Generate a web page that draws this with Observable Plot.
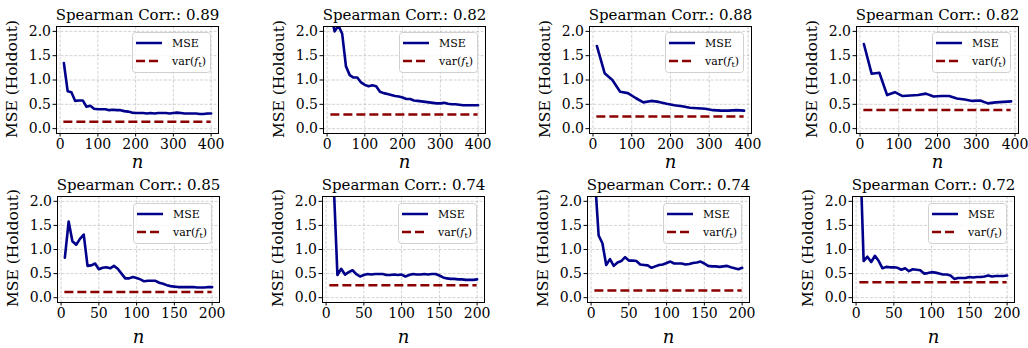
<!DOCTYPE html>
<html><head><meta charset="utf-8">
<script src="https://cdn.jsdelivr.net/npm/d3@7"></script>
<script src="https://cdn.jsdelivr.net/npm/@observablehq/plot@0.6"></script>
<style>
body{margin:0;background:#fff;}
#fig{position:relative;width:1028px;height:348px;overflow:hidden;font-family:"DejaVu Serif",serif;background:#fff;}
#fig svg.pl{position:absolute;}
.overlay{position:absolute;overflow:visible;}
</style></head><body><div id="fig"></div>
<script>
// ---- data ----
const nStep10 = [10,20,30,40,50,60,70,80,90,100,110,120,130,140,150,160,170,180,190,200,210,220,230,240,250,260,270,280,290,300,310,320,330,340,350,360,370,380,390,400];
const nStep20 = [10,30,50,70,90,110,130,150,170,190,210,230,250,270,290,310,330,350,370,390];
const nStep5 = [5,10,15,20,25,30,35,40,45,50,55,60,65,70,75,80,85,90,95,100,105,110,115,120,125,130,135,140,145,150,155,160,165,170,175,180,185,190,195,200];

const mse1 = [1.35,0.77,0.75,0.57,0.58,0.58,0.45,0.47,0.41,0.40,0.40,0.40,0.38,0.39,0.38,0.38,0.36,0.35,0.33,0.32,0.32,0.32,0.31,0.32,0.31,0.32,0.32,0.32,0.31,0.32,0.33,0.32,0.31,0.31,0.31,0.31,0.30,0.30,0.31,0.31];
const mse2 = [2.35,2.0,2.12,1.95,1.28,1.1,1.05,1.05,0.95,0.9,0.87,0.89,0.87,0.76,0.73,0.71,0.69,0.67,0.66,0.64,0.61,0.61,0.58,0.57,0.56,0.55,0.54,0.53,0.52,0.52,0.53,0.51,0.50,0.50,0.49,0.48,0.48,0.48,0.48,0.48];
const mse3 = [1.70,1.14,1.0,0.76,0.73,0.63,0.54,0.57,0.55,0.51,0.48,0.46,0.43,0.42,0.41,0.38,0.37,0.37,0.38,0.37];
const mse4 = [1.74,1.13,1.15,0.69,0.75,0.67,0.68,0.69,0.72,0.66,0.67,0.67,0.62,0.60,0.57,0.58,0.52,0.54,0.55,0.56];
const mse5 = [0.83,1.58,1.17,1.10,1.22,1.31,0.66,0.67,0.71,0.59,0.62,0.63,0.61,0.66,0.60,0.50,0.40,0.40,0.43,0.41,0.38,0.34,0.35,0.35,0.35,0.31,0.29,0.26,0.24,0.23,0.22,0.22,0.22,0.22,0.22,0.21,0.21,0.21,0.22,0.22];
const mse6 = [3.5,2.4,0.47,0.60,0.48,0.53,0.57,0.49,0.44,0.47,0.49,0.48,0.49,0.49,0.49,0.47,0.47,0.48,0.47,0.48,0.44,0.47,0.49,0.48,0.48,0.49,0.48,0.49,0.49,0.46,0.42,0.40,0.39,0.39,0.38,0.38,0.37,0.37,0.37,0.38];
const mse7 = [2.5,1.29,1.13,0.68,0.80,0.66,0.73,0.76,0.84,0.77,0.77,0.76,0.69,0.68,0.67,0.62,0.65,0.68,0.69,0.72,0.75,0.71,0.71,0.71,0.69,0.70,0.72,0.73,0.75,0.71,0.66,0.65,0.65,0.64,0.65,0.66,0.63,0.61,0.59,0.62];
const mse8 = [3.2,0.76,0.85,0.74,0.87,0.76,0.61,0.64,0.63,0.63,0.62,0.58,0.61,0.55,0.59,0.58,0.57,0.50,0.51,0.53,0.52,0.50,0.48,0.48,0.46,0.39,0.41,0.41,0.41,0.43,0.42,0.43,0.43,0.44,0.46,0.44,0.45,0.45,0.45,0.46];

const varFt = [0.14,0.29,0.25,0.385,0.12,0.26,0.15,0.32];
const spearman = ["0.89","0.82","0.88","0.82","0.85","0.74","0.74","0.72"];

const xTicksTop = [0,100,200,300,400];
const xTicksBottom = [0,50,100,150,200];
const yTicks = [0.0,0.5,1.0,1.5,2.0];
const yLabel = "MSE (Holdout)";

const panelN = [nStep10,nStep10,nStep20,nStep20,nStep5,nStep5,nStep5,nStep5];
const panelMse = [mse1,mse2,mse3,mse4,mse5,mse6,mse7,mse8];

// ---- layout ----
const frameLeft = [56,323,589,856,57,322,587,852];
const frameTop = [26,26,26,26,196,196,196,196];
const FW = 162;
const frameH = [107,107,107,107,106,106,106,106];
const ML = 56, MT = 26, MR = 12, MB = 48;

const fig = document.getElementById("fig");
const FONT = "DejaVu Serif";
const BLUE = "#00008b", RED = "#8b0000";
const SVGNS = "http://www.w3.org/2000/svg";

for (let i = 0; i < 8; i++) {
  const ns = panelN[i];
  const data = ns.map((n, j) => ({n, mse: panelMse[i][j]}));
  const lo = d3.min(ns), hi = d3.max(ns), pad = (hi - lo) * 0.05;
  const xt = i < 4 ? xTicksTop : xTicksBottom;
  const gridStyle = {stroke: "#b0b0b0", strokeOpacity: 0.7, strokeWidth: 0.8, strokeDasharray: "3,1.5"};
  const svg = Plot.plot({
    width: ML + FW + MR,
    height: MT + frameH[i] + MB,
    marginLeft: ML, marginTop: MT, marginRight: MR, marginBottom: MB,
    x: {domain: [lo - pad, hi + pad]},
    y: {domain: [-0.1, 2.1]},
    style: {fontFamily: FONT, background: "transparent", overflow: "visible", color: "#000"},
    marks: [
      Plot.gridX(xt, gridStyle),
      Plot.gridY(yTicks, gridStyle),
      Plot.ruleY([varFt[i]], {x1: lo, x2: hi, stroke: RED, strokeWidth: 2.5, strokeDasharray: "9,4"}),
      Plot.line(data, {x: "n", y: "mse", stroke: BLUE, strokeWidth: 2.6, clip: true, strokeLinejoin: "round"}),
      Plot.frame({stroke: "#000", strokeWidth: 1}),
      Plot.axisX(xt, {tickSize: 3.5, tickPadding: 2, fontSize: 14, label: null, tickFormat: d3.format("d")}),
      Plot.axisY(yTicks, {tickSize: 3.5, tickPadding: 2, fontSize: 14, label: null, tickFormat: d3.format(".1f")}),
      Plot.text(["Spearman Corr.: " + spearman[i]], {frameAnchor: "top", dy: -11, fontSize: 15, lineAnchor: "middle"}),
      Plot.text(["n"], {frameAnchor: "bottom", dy: i < 4 ? 29 : 35, fontSize: 18, fontStyle: "italic", lineAnchor: "middle"})
    ]
  });
  svg.classList.add("pl");
  svg.style.left = (frameLeft[i] - ML) + "px";
  svg.style.top = (frameTop[i] - MT) + "px";
  fig.appendChild(svg);

  // y-axis title (rotated)
  const yl = document.createElementNS(SVGNS, "svg");
  yl.setAttribute("class", "overlay");
  yl.setAttribute("width", 24);
  yl.setAttribute("height", 140);
  const cx = frameLeft[i] - 44, cy = frameTop[i] + frameH[i] / 2 - 1;
  yl.style.left = (cx - 12) + "px";
  yl.style.top = (cy - 70) + "px";
  yl.innerHTML = `<text transform="translate(12,70) rotate(-90)" text-anchor="middle" dominant-baseline="central" font-family="${FONT}" font-size="15.5" fill="#000">${yLabel}</text>`;
  fig.appendChild(yl);

  // legend (inside frame, upper right)
  const lg = document.createElementNS(SVGNS, "svg");
  lg.setAttribute("class", "overlay");
  lg.setAttribute("width", 79);
  lg.setAttribute("height", 41);
  lg.style.left = (frameLeft[i] + FW - 7 - 79) + "px";
  lg.style.top = (frameTop[i] + (i < 4 ? 6 : 7)) + "px";
  lg.innerHTML =
    `<rect x="0.5" y="0.5" width="78" height="40" rx="3" fill="#fff" fill-opacity="0.8" stroke="#d0d0d0"/>` +
    `<line x1="4" x2="30" y1="11" y2="11" stroke="${BLUE}" stroke-width="2.5"/>` +
    `<text x="40" y="15" font-family="${FONT}" font-size="11">MSE</text>` +
    `<line x1="4" x2="30" y1="29" y2="29" stroke="${RED}" stroke-width="2.5" stroke-dasharray="9,4"/>` +
    `<text x="40" y="33" font-family="${FONT}" font-size="11">var(<tspan font-style="italic">f</tspan><tspan font-size="8" dy="2">t</tspan><tspan dy="-2">)</tspan></text>`;
  fig.appendChild(lg);
}
</script></body></html>
